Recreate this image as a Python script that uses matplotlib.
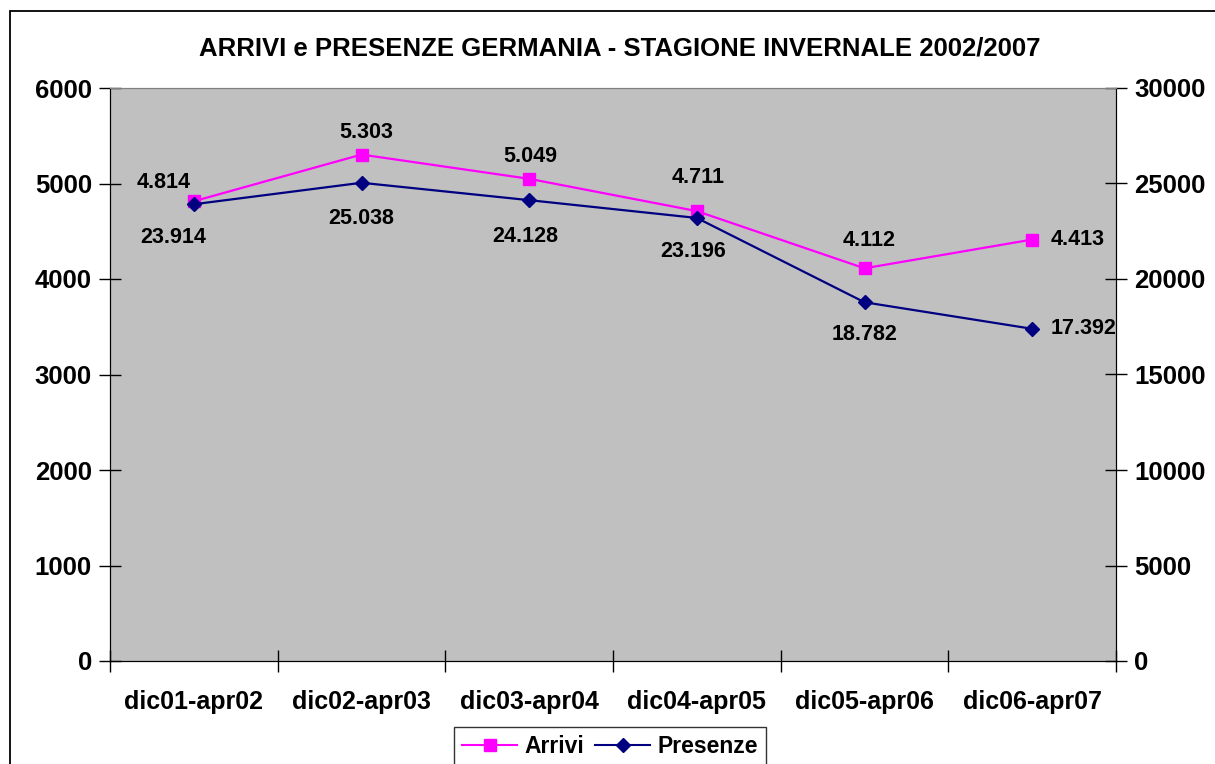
import matplotlib
matplotlib.use("Agg")
import matplotlib.pyplot as plt
from matplotlib.patches import Rectangle
from matplotlib.lines import Line2D

categories = ["dic01-apr02", "dic02-apr03", "dic03-apr04", "dic04-apr05", "dic05-apr06", "dic06-apr07"]
arrivi = [4814, 5303, 5049, 4711, 4112, 4413]
presenze = [23914, 25038, 24128, 23196, 18782, 17392]
arrivi_labels = ["4.814", "5.303", "5.049", "4.711", "4.112", "4.413"]
presenze_labels = ["23.914", "25.038", "24.128", "23.196", "18.782", "17.392"]
left_ticks = [0, 1000, 2000, 3000, 4000, 5000, 6000]
right_ticks = [0, 5000, 10000, 15000, 20000, 25000, 30000]

plt.rcParams['font.family'] = ['Liberation Sans', 'DejaVu Sans']
plt.rcParams['font.weight'] = 'bold'

W, H = 1215, 764
fig = plt.figure(figsize=(W/100, H/100), dpi=100)
fig.patch.set_facecolor('white')

# outer chart frame
fig.patches.append(Rectangle((10/W, -0.1), 1.2, (H-11)/H + 0.1, transform=fig.transFigure,
                             fill=False, edgecolor='black', linewidth=1.3, zorder=0))

ax = fig.add_axes([110/W, (H-661)/H, 1006/W, 573/H])
ax.set_facecolor('#C0C0C0')
ax2 = ax.twinx()

x = list(range(len(categories)))
ax.plot(x, arrivi, color='#FF00FF', marker='s', markersize=8, linewidth=1.6, zorder=3)
ax2.plot(x, presenze, color='#000080', marker='D', markersize=7.5, linewidth=1.6, zorder=3)

ax.set_xlim(-0.5, len(categories) - 0.5)
ax.set_ylim(0, 6000)
ax2.set_ylim(0, 30000)

ax.set_yticks(left_ticks)
ax.set_yticklabels([str(t) for t in left_ticks], fontsize=18.5, fontweight='bold')
ax2.set_yticks(right_ticks)
ax2.set_yticklabels([str(t) for t in right_ticks], fontsize=18.5, fontweight='bold')

ax.set_xticks([i - 0.5 for i in range(len(categories) + 1)])
ax.set_xticklabels([])
ax.set_xticks(x, minor=True)
ax.set_xticklabels(categories, minor=True, fontsize=18, fontweight='bold')
ax.tick_params(axis='x', which='minor', length=0, pad=21)
ax.tick_params(axis='x', which='major', direction='inout', length=16, width=1)
ax.tick_params(axis='y', direction='inout', length=16, width=1, pad=5)
ax2.tick_params(axis='y', direction='inout', length=16, width=1, pad=5)

for a in (ax, ax2):
    a.spines['top'].set_color('#808080')
    a.spines['left'].set_color('black')
    a.spines['right'].set_color('black')
    a.spines['bottom'].set_color('black')

# data labels: Arrivi (pixel offsets)
arr_off = [(-30, 19), (5, 22), (1, 22), (1, 34), (5, 28), (45, 0)]
for i, (v, lab) in enumerate(zip(arrivi, arrivi_labels)):
    dx, dy = arr_off[i]
    ax.annotate(lab, (i, v), xytext=(dx, dy), textcoords='offset pixels',
                ha='center', va='center', fontsize=15.5, fontweight='bold', zorder=5)

pre_off = [(-21, -33), (0, -36), (-4, -36), (-4, -34), (0, -32), (51, 0)]
for i, (v, lab) in enumerate(zip(presenze, presenze_labels)):
    dx, dy = pre_off[i]
    ax2.annotate(lab, (i, v), xytext=(dx, dy), textcoords='offset pixels',
                 ha='center', va='center', fontsize=15.5, fontweight='bold', zorder=5)

fig.text(620/W, 1 - 48/H, "ARRIVI e PRESENZE GERMANIA - STAGIONE INVERNALE 2002/2007",
         ha='center', va='center', fontsize=18.5, fontweight='bold')

handles = [Line2D([0], [0], color='#FF00FF', marker='s', markersize=8, linewidth=1.5),
           Line2D([0], [0], color='#000080', marker='D', markersize=7, linewidth=1.5)]
leg = fig.legend(handles, ["Arrivi", "Presenze"], loc='upper center',
                 bbox_to_anchor=(610/W, 1 - 727/H), ncol=2, frameon=True, fancybox=False,
                 edgecolor='black', handlelength=2.4, handletextpad=0.3,
                 columnspacing=0.5, borderpad=0.35, borderaxespad=0,
                 prop={'weight': 'bold', 'size': 16.5})
leg.get_frame().set_linewidth(1.0)

fig.savefig("out.png", dpi=100)
